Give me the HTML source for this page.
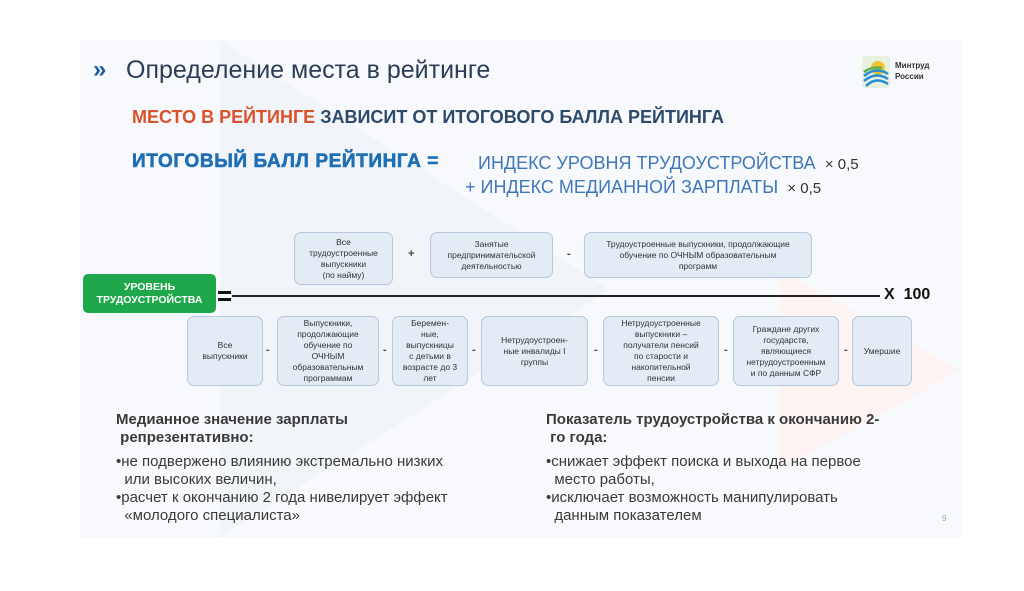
<!DOCTYPE html>
<html><head><meta charset="utf-8"><style>
body{margin:0;width:1024px;height:591px;background:#fff;position:relative;overflow:hidden;font-family:"Liberation Sans","DejaVu Sans",sans-serif}
.slide{position:absolute;left:80px;top:40px;width:882px;height:497px;background:#f8f9fc;overflow:hidden}
.a{position:absolute;white-space:nowrap}
.bx{position:absolute;background:#e3ebf5;border:1px solid #b7c7dc;border-radius:7px;display:flex;align-items:center;justify-content:center;text-align:center;font-size:8.5px;line-height:11px;color:#333;box-sizing:border-box;padding:0 2px}
.op{position:absolute;font-size:11px;color:#444;font-weight:bold}
.t{position:absolute;font-size:15px;color:#3a3a3a;line-height:18px;white-space:nowrap}
</style></head><body>
<div class="slide">
<svg class="a" style="left:0;top:0" width="882" height="497">
<polygon points="140,0 530,250 140,497" fill="#f1f4f9"/>
<polygon points="700,230 880,330 700,430" fill="#fcf3f2"/>
</svg>
</div>
<div class="a" style="left:93px;top:56px;font-size:24px;color:#1a5da8;font-weight:bold">»</div>
<div class="a" style="left:126px;top:56px;font-size:25px;color:#2c3e57">Определение места в рейтинге</div>
<svg class="a" style="left:862px;top:56px" width="28" height="32"><rect width="28" height="32" rx="3" fill="#e8f0e0"/><circle cx="16" cy="12" r="7" fill="#f3c530"/><path d="M2 20 Q14 10 26 18 M2 25 Q14 15 26 23 M4 30 Q14 20 26 28" stroke="#2b8fcf" stroke-width="2.5" fill="none"/><path d="M2 16 Q10 10 20 12" stroke="#5bb04a" stroke-width="2.5" fill="none"/></svg>
<div class="a" style="left:895px;top:60px;font-size:8px;line-height:11px;color:#333;font-weight:bold">Минтруд<br>России</div>
<div class="a" style="left:132px;top:107px;font-size:18px;font-weight:bold;color:#2d4a6b;transform:scaleX(1.0);transform-origin:left"><span style="color:#d9522b">МЕСТО В РЕЙТИНГЕ</span> ЗАВИСИТ ОТ ИТОГОВОГО БАЛЛА РЕЙТИНГА</div>
<div class="a" style="left:132px;top:151px;font-size:19px;font-weight:bold;color:#1f6fb5;letter-spacing:0.6px;-webkit-text-stroke:0.6px #1f6fb5">ИТОГОВЫЙ БАЛЛ РЕЙТИНГА =</div>
<div class="a" style="left:478px;top:152px;font-size:18px;color:#3f78b8;line-height:23px">ИНДЕКС УРОВНЯ ТРУДОУСТРОЙСТВА <span style="font-size:15px;color:#333">&nbsp;× 0,5</span><br><span style="margin-left:-13px">+ ИНДЕКС МЕДИАННОЙ ЗАРПЛАТЫ</span> <span style="font-size:15px;color:#333">&nbsp;× 0,5</span></div>

<div class="bx" style="left:294px;top:232px;width:99px;height:53px">Все<br>трудоустроенные<br>выпускники<br>(по найму)</div>
<div class="op" style="left:408px;top:248px">+</div>
<div class="bx" style="left:430px;top:232px;width:123px;height:46px">Занятые<br>предпринимательской<br>деятельностью</div>
<div class="op" style="left:567px;top:248px">-</div>
<div class="bx" style="left:584px;top:232px;width:228px;height:46px">Трудоустроенные выпускники, продолжающие<br>обучение по ОЧНЫМ образовательным<br>программ</div>

<div class="a" style="left:83px;top:274px;width:133px;height:39px;background:#1ea84b;border-radius:5px;color:#fff;font-weight:bold;font-size:10.5px;line-height:13px;text-align:center;display:flex;align-items:center;justify-content:center">УРОВЕНЬ<br>ТРУДОУСТРОЙСТВА</div>
<div class="a" style="left:218px;top:291px;width:13px;height:3px;background:#111"></div>
<div class="a" style="left:218px;top:298px;width:13px;height:3px;background:#111"></div>
<div class="a" style="left:232px;top:295px;width:648px;height:2px;background:#222"></div>
<div class="a" style="left:884px;top:286px;font-size:16px;font-weight:bold;color:#111">X&nbsp; 100</div>

<div class="bx" style="left:187px;top:316px;width:76px;height:70px">Все<br>выпускники</div>
<div class="op" style="left:266px;top:344px">-</div>
<div class="bx" style="left:277px;top:316px;width:102px;height:70px">Выпускники,<br>продолжающие<br>обучение по<br>ОЧНЫМ<br>образовательным<br>программам</div>
<div class="op" style="left:383px;top:344px">-</div>
<div class="bx" style="left:392px;top:316px;width:76px;height:70px">Беремен-<br>ные,<br>выпускницы<br>с детьми в<br>возрасте до 3<br>лет</div>
<div class="op" style="left:472px;top:344px">-</div>
<div class="bx" style="left:481px;top:316px;width:107px;height:70px">Нетрудоустроен-<br>ные инвалиды I<br>группы</div>
<div class="op" style="left:594px;top:344px">-</div>
<div class="bx" style="left:603px;top:316px;width:116px;height:70px">Нетрудоустроенные<br>выпускники –<br>получатели пенсий<br>по старости и<br>накопительной<br>пенсии</div>
<div class="op" style="left:724px;top:344px">-</div>
<div class="bx" style="left:733px;top:316px;width:106px;height:70px">Граждане других<br>государств,<br>являющиеся<br>нетрудоустроенным<br>и по данным СФР</div>
<div class="op" style="left:844px;top:344px">-</div>
<div class="bx" style="left:852px;top:316px;width:60px;height:70px">Умершие</div>

<div class="t" style="left:116px;top:411px;font-weight:bold">Медианное значение зарплаты<br>&nbsp;репрезентативно:</div>
<div class="t" style="left:116px;top:453px">•не подвержено влиянию экстремально низких<br>&nbsp;&nbsp;или высоких величин,<br>•расчет к окончанию 2 года нивелирует эффект<br>&nbsp;&nbsp;«молодого специалиста»</div>
<div class="t" style="left:546px;top:411px;font-weight:bold">Показатель трудоустройства к окончанию 2-<br>&nbsp;го года:</div>
<div class="t" style="left:546px;top:453px">•снижает эффект поиска и выхода на первое<br>&nbsp;&nbsp;место работы,<br>•исключает возможность манипулировать<br>&nbsp;&nbsp;данным показателем</div>
<div class="a" style="left:942px;top:514px;font-size:8px;color:#9ab">9</div>
</body></html>
